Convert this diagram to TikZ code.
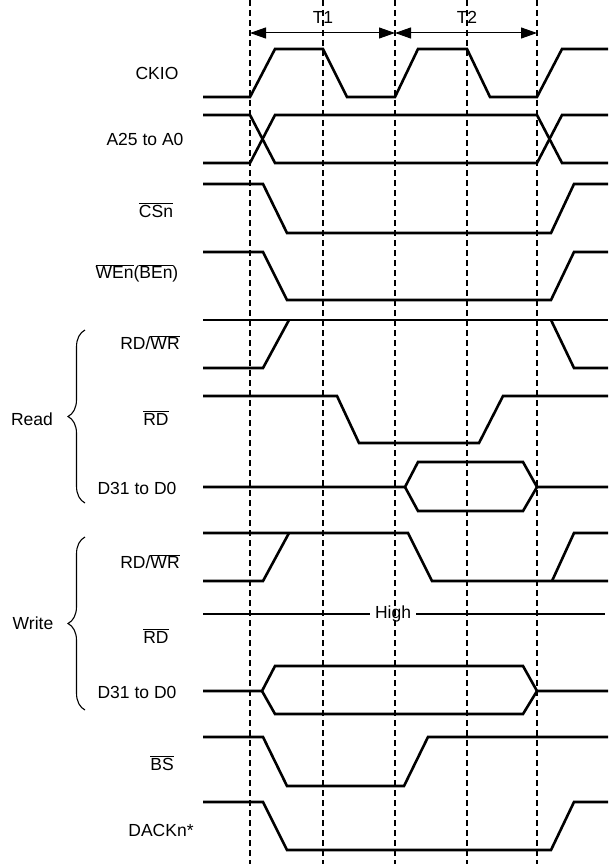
\documentclass[tikz,border=0pt]{standalone}
\usepackage{fontspec}
\setmainfont{Liberation Sans}
\usetikzlibrary{arrows.meta,decorations.pathreplacing}
\newcommand{\ovl}[1]{$\overline{\mbox{#1}}$}
\begin{document}
\begin{tikzpicture}[x=1pt,y=-1pt,>={Triangle[length=16pt,width=11pt]},
	sig/.style={line width=2.6pt,line join=miter},
	grid/.style={line width=1.2pt,dash pattern=on 6pt off 4pt},
	lab/.style={font=\fontsize{17.5}{21}\selectfont,inner sep=0pt},
	brc/.style={line width=1.1pt,decorate,decoration={brace,amplitude=17pt}}]
	\useasboundingbox (0,0) rectangle (608,864);
	% clock edges
	\foreach \n/\x in {0/250,1/323,2/395,3/467,4/537}{
		\draw[grid] (\x,0) -- (\x,864);
		\coordinate (t\n) at (\x,33);
	}
	\draw[<->,line width=1pt] (t0) -- (t2);
	\draw[<->,line width=1pt] (t2) -- (t4);
	\node[lab] (lT1) at (323,17) {T1};
	\node[lab] (lT2) at (467,17) {T2};
	% signal names
	\node[lab] (ckio) at (157,73) {CKIO};
	\node[lab] (addr) at (145,139) {A25 to A0};
	\node[lab] (cs) at (156,210) {\ovl{CSn}};
	\node[lab] (we) at (137,273) {\ovl{WEn}(\ovl{BEn})};
	\node[lab] (rdwr1) at (150,343) {RD/\ovl{WR}};
	\node[lab] (rd1) at (156,418) {\ovl{RD}};
	\node[lab] (d1) at (137,488) {D31 to D0};
	\node[lab] (rdwr2) at (150,562) {RD/\ovl{WR}};
	\node[lab] (rd2) at (156,636) {\ovl{RD}};
	\node[lab] (d2) at (137,692) {D31 to D0};
	\node[lab] (bs) at (162,763) {\ovl{BS}};
	\node[lab] (dack) at (161,830) {DACKn*};
	% read / write groups
	\draw[brc] (85,503) -- (85,330);
	\node[lab] (read) at (32,419) {Read};
	\draw[brc] (85,710) -- (85,537);
	\node[lab] (write) at (33,623) {Write};
	% CKIO
	\draw[sig] (203,97) -- (250,97) -- (275,49) -- (323,49) -- (347,97) -- (395,97)
		-- (418,49) -- (467,49) -- (490,97) -- (537,97) -- (562,49) -- (608,49);
	% address
	\draw[sig] (203,115) -- (250,115) -- (275,163) -- (537,163) -- (562,115) -- (608,115);
	\draw[sig] (203,163) -- (250,163) -- (275,115) -- (537,115) -- (562,163) -- (608,163);
	% CSn, WEn
	\draw[sig] (203,184) -- (263,184) -- (287,233) -- (551,233) -- (574,184) -- (608,184);
	\draw[sig] (203,252) -- (263,252) -- (287,300) -- (551,300) -- (574,252) -- (608,252);
	% read cycle
	\draw[sig] (203,320) -- (608,320);
	\draw[sig] (203,368) -- (263,368) -- (289,320);
	\draw[sig] (551,320) -- (574,368) -- (608,368);
	\draw[sig] (203,396) -- (337,396) -- (359,443) -- (479,443) -- (503,396) -- (608,396);
	\draw[sig] (203,487) -- (405,487) -- (418,462) -- (523,462) -- (537,487) -- (608,487);
	\draw[sig] (405,487) -- (418,511) -- (523,511) -- (537,487);
	% write cycle
	\draw[sig] (203,533) -- (408,533) -- (432,581) -- (608,581);
	\draw[sig] (203,581) -- (263,581) -- (289,533);
	\draw[sig] (552,581) -- (574,533) -- (608,533);
	\node[lab,inner xsep=5pt] (high) at (393,614) {High};
	\draw[sig] (203,614) -- (high.west);
	\draw[sig] (high.east) -- (605,614);
	\draw[sig] (203,691) -- (262,691) -- (275,666) -- (523,666) -- (537,691) -- (608,691);
	\draw[sig] (262,691) -- (275,714) -- (523,714) -- (537,691);
	% BS, DACKn
	\draw[sig] (203,737) -- (263,737) -- (287,786) -- (404,786) -- (428,737) -- (608,737);
	\draw[sig] (203,802) -- (263,802) -- (287,850) -- (551,850) -- (574,802) -- (608,802);
\end{tikzpicture}
\end{document}
